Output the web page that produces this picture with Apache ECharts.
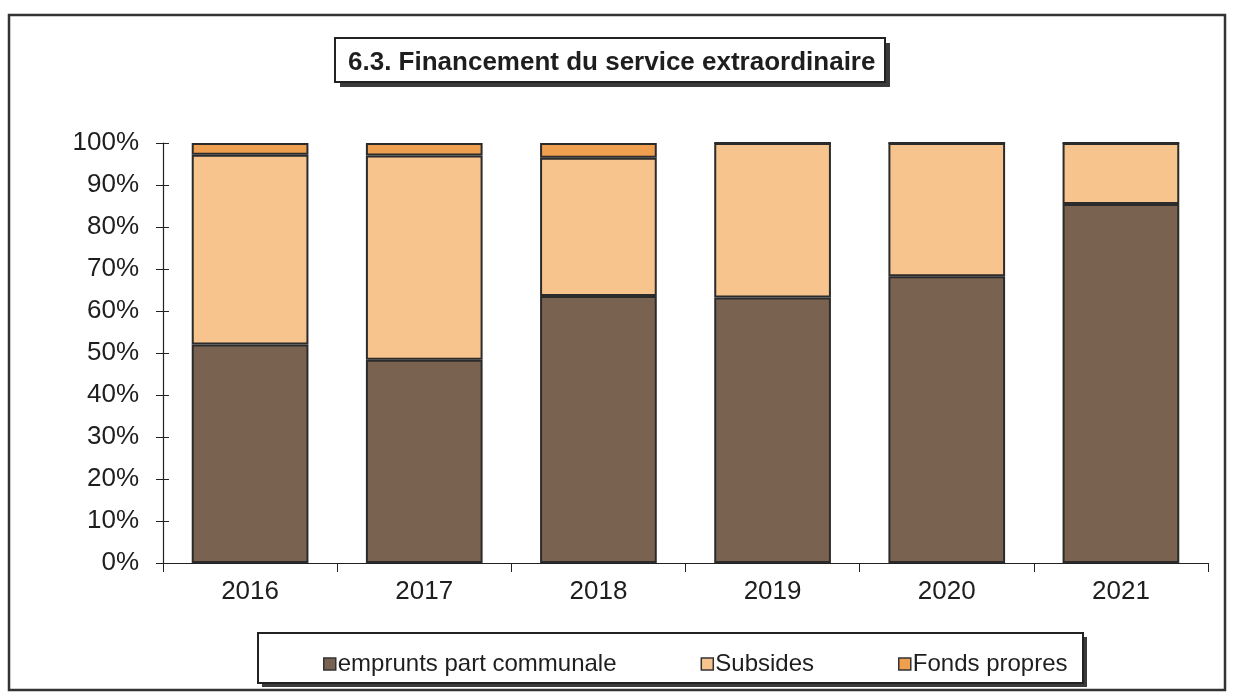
<!DOCTYPE html>
<html>
<head>
<meta charset="utf-8">
<script src="https://cdn.jsdelivr.net/npm/echarts@6/dist/echarts.min.js"></script>
<style>html,body{margin:0;padding:0;background:#fff;}#c{width:1233px;height:700px;}</style>
</head>
<body>
<div id="c"></div>
<script>
var years = ['2016', '2017', '2018', '2019', '2020', '2021'];
var emprunts = [52, 48.4, 63.6, 63.2, 68.3, 85.5];
var subsides = [45.2, 48.6, 32.9, 36.8, 31.7, 14.5];
var fondsPropres = [2.8, 3.0, 3.5, 0, 0, 0];
var yTicks = [0, 10, 20, 30, 40, 50, 60, 70, 80, 90, 100];

var FONT = '"Liberation Sans", Arial, sans-serif';
var chart = echarts.init(document.getElementById('c'), null, {renderer: 'canvas'});

function barSeries(name, data, color) {
  return {
    name: name, type: 'bar', stack: 'total', data: data,
    barWidth: '67%',
    itemStyle: {color: color, borderColor: '#2b2b2b', borderWidth: 2},
    emphasis: {disabled: true}
  };
}

chart.setOption({
  animation: false,
  backgroundColor: '#ffffff',
  graphic: [
    {type: 'rect', shape: {x: 9, y: 15, width: 1216, height: 675},
     style: {fill: 'none', stroke: '#333', lineWidth: 2.5}, z: 0},
    {type: 'rect', shape: {x: 340, y: 43, width: 550, height: 44},
     style: {fill: '#3a3a3a'}, z: 1},
    {type: 'rect', shape: {x: 335, y: 38, width: 550, height: 44},
     style: {fill: '#fff', stroke: '#222', lineWidth: 2}, z: 2},
    {type: 'rect', shape: {x: 262, y: 637, width: 825, height: 50},
     style: {fill: '#3a3a3a'}, z: 1},
    {type: 'rect', shape: {x: 258, y: 633, width: 825, height: 50},
     style: {fill: '#fff', stroke: '#222', lineWidth: 2}, z: 2}
  ],
  title: {
    text: '6.3. Financement du service extraordinaire',
    left: 343, top: 45,
    textStyle: {fontFamily: FONT, fontWeight: 'bold', fontSize: 26, color: '#1e1e1e'},
    z: 5
  },
  legend: {
    left: 318, top: 647,
    itemWidth: 12, itemHeight: 12, itemGap: 84,
    icon: 'rect',
    textStyle: {fontFamily: FONT, fontSize: 24, color: '#1e1e1e', padding: [0, 0, 0, -3]},
    itemStyle: {borderColor: '#333', borderWidth: 1.5},
    data: ['emprunts part communale', 'Subsides', 'Fonds propres'],
    z: 5
  },
  grid: {left: 163, right: 25, top: 143, bottom: 137},
  xAxis: {
    type: 'category', data: years,
    axisLine: {lineStyle: {color: '#222', width: 1.2}},
    axisTick: {show: true, length: 9, lineStyle: {color: '#222'}},
    axisLabel: {fontFamily: FONT, fontSize: 26, color: '#1e1e1e', margin: 16}
  },
  yAxis: [{
    type: 'value', min: 0, max: 100, interval: 10,
    axisLine: {show: true, lineStyle: {color: '#222', width: 1.2}},
    axisTick: {show: true, length: 7, lineStyle: {color: '#222'}},
    splitLine: {show: false},
    axisLabel: {fontFamily: FONT, fontSize: 26, color: '#1e1e1e', margin: 24,
      formatter: function (v) { return yTicks.indexOf(v) >= 0 ? v + '%' : ''; }}
  }, {
    type: 'value', min: 0, max: 100, interval: 10, position: 'left',
    axisLine: {show: false},
    axisTick: {show: true, inside: true, length: 6, lineStyle: {color: '#222'}},
    splitLine: {show: false},
    axisLabel: {show: false}
  }],
  series: [
    barSeries('emprunts part communale', emprunts, '#7a6250'),
    barSeries('Subsides', subsides, '#f6c48c'),
    barSeries('Fonds propres', fondsPropres, '#ef9f50')
  ]
});
</script>
</body>
</html>
